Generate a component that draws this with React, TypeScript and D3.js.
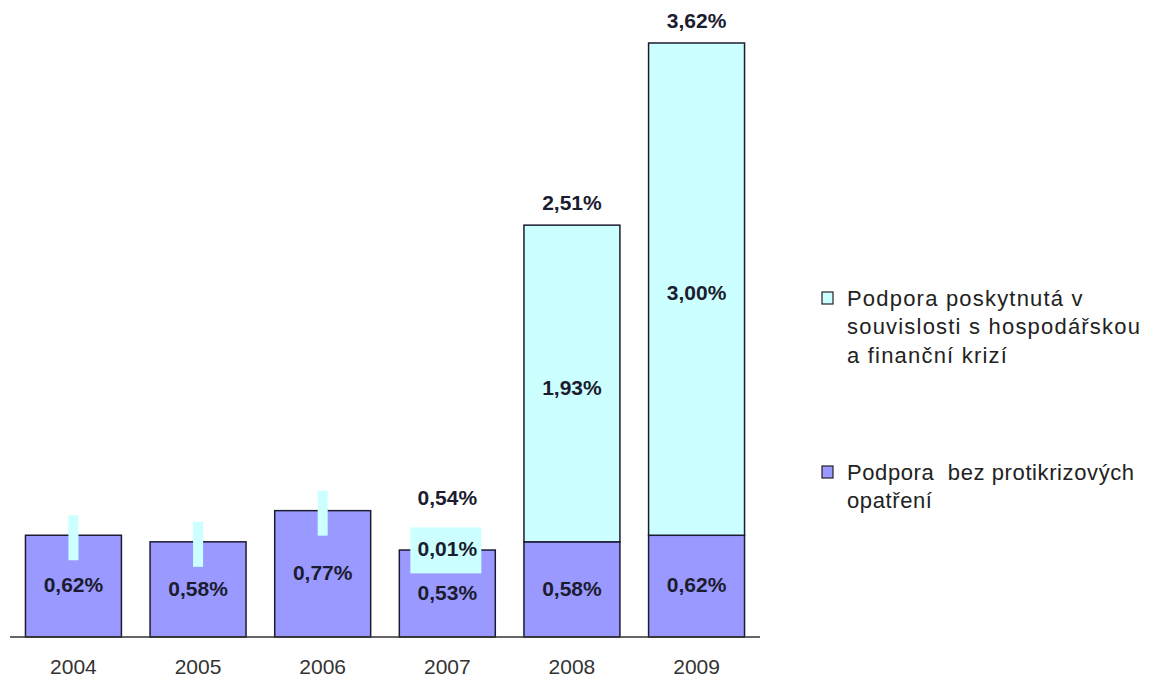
import React from 'react'
import * as d3 from 'd3'

const years = ['2004', '2005', '2006', '2007', '2008', '2009']
const baseSupport = [0.62, 0.58, 0.77, 0.53, 0.58, 0.62]
const crisisSupport = [0, 0, 0, 0.01, 1.93, 3.0]
const totals = [0.62, 0.58, 0.77, 0.54, 2.51, 3.62]
const legendCrisis = ['Podpora poskytnutá v', 'souvislosti s hospodářskou', 'a finanční krizí']
const legendBase = ['Podpora  bez protikrizových', 'opatření']

const W = 1166
const H = 682
const PURPLE = '#9999ff'
const CYAN = '#ccffff'
const INK = '#1c1c30'
const fmt = (v: number) => v.toFixed(2).replace('.', ',') + '%'

export default function App () {
  const x = d3.scaleBand().domain(years).range([10, 760]).paddingInner(0.23).paddingOuter(0.124)
  const y = d3.scaleLinear().domain([0, 3.62]).range([637, 43])
  const bw = x.bandwidth()
  const font = 'Arial, "Liberation Sans", sans-serif'

  return (
    <svg width={W} height={H} style={{ position: 'absolute', left: 0, top: 0, background: '#fff' }} fontFamily={font}>
      {years.map((yr, i) => {
        const x0 = x(yr) as number
        const cx = x0 + bw / 2
        const baseTop = y(baseSupport[i])
        const top = y(baseSupport[i] + crisisSupport[i])
        const small = crisisSupport[i] < 0.1
        return (
          <g key={yr}>
            <rect x={x0} y={baseTop} width={bw} height={y(0) - baseTop} fill={PURPLE} stroke={INK} strokeWidth={1.5} />
            {crisisSupport[i] >= 0.1 && (
              <rect x={x0} y={top} width={bw} height={baseTop - top} fill={CYAN} stroke={INK} strokeWidth={1.5} />
            )}
            {/* leftover label backgrounds of the empty crisis series */}
            {crisisSupport[i] === 0 && (
              <rect x={cx - 5} y={top - 20} width={10} height={45} fill={CYAN} />
            )}
            {crisisSupport[i] > 0 && small && (
              <g>
                <rect x={x0 + 11} y={top - 21} width={71} height={46} fill={CYAN} />
                <text x={cx} y={top} dy='0.35em' textAnchor='middle' fontSize={21} fontWeight='bold' fill={INK}>{fmt(crisisSupport[i])}</text>
              </g>
            )}
            {!small && (
              <text x={cx} y={(top + baseTop) / 2 + 4} dy='0.35em' textAnchor='middle' fontSize={21} fontWeight='bold' fill={INK}>{fmt(crisisSupport[i])}</text>
            )}
            <text x={cx} y={(baseTop + y(0)) / 2 - 1} dy='0.35em' textAnchor='middle' fontSize={21} fontWeight='bold' fill={INK}>{fmt(baseSupport[i])}</text>
            {crisisSupport[i] > 0 && (
              <text x={cx} y={top - (small ? 51 : 22)} dy='0.35em' textAnchor='middle' fontSize={21} fontWeight='bold' fill={INK}>{fmt(totals[i])}</text>
            )}
            <text x={cx} y={667} dy='0.35em' textAnchor='middle' fontSize={21} fill='#333'>{yr}</text>
          </g>
        )
      })}
      <line x1={10} x2={760} y1={y(0)} y2={y(0)} stroke='#333' strokeWidth={1.5} />

      <rect x={822} y={292} width={11} height={12} fill={CYAN} stroke='#222' strokeWidth={1.2} />
      {legendCrisis.map((t, i) => (
        <text key={t} x={847} y={298 + i * 28.5} dy='0.35em' fontSize={22} letterSpacing={1.2} fill='#222'>{t}</text>
      ))}
      <rect x={822} y={466} width={11} height={12} fill={PURPLE} stroke='#222' strokeWidth={1.2} />
      {legendBase.map((t, i) => (
        <text key={t} x={847} y={472 + i * 28.5} dy='0.35em' fontSize={22} letterSpacing={0.6} fill='#222' style={{ whiteSpace: 'pre' }}>{t}</text>
      ))}
    </svg>
  )
}
